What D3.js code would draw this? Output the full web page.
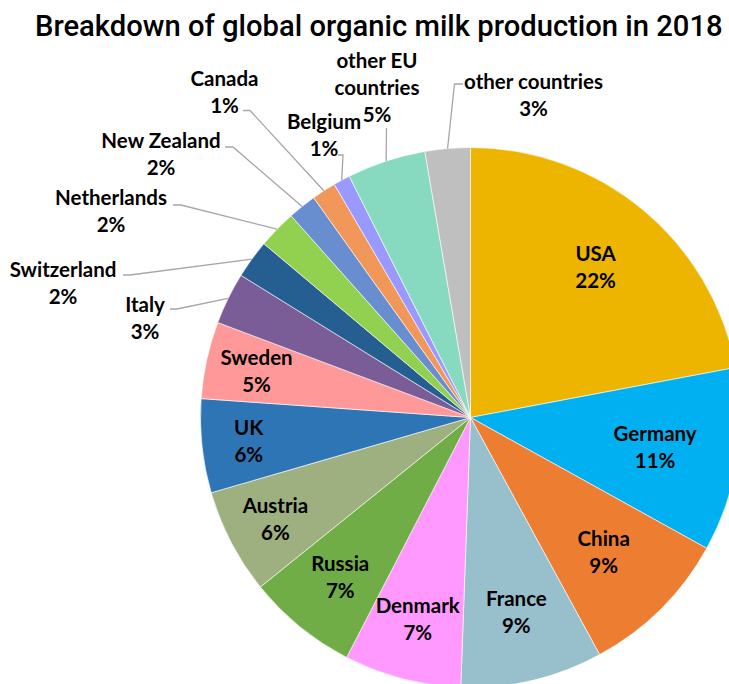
<!DOCTYPE html>
<html>
<head>
<meta charset="utf-8">
<script src="https://cdn.jsdelivr.net/npm/d3@7/dist/d3.min.js"></script>
<style>
  html, body { margin: 0; padding: 0; background: #fff; }
  svg { display: block; }
</style>
</head>
<body>
<svg id="chart" width="729" height="684"></svg>
<script>
// Share of global organic milk production, 2018 (percent), clockwise from 12 o'clock
const countries = ["USA", "Germany", "China", "France", "Denmark", "Russia", "Austria", "UK",
  "Sweden", "Italy", "Switzerland", "Netherlands", "New Zealand", "Canada", "Belgium",
  "other EU countries", "other countries"];
const shares = [22.0, 11.0, 9.0, 8.5, 7.0, 6.6, 6.3, 5.6, 4.6, 3.1, 2.3, 2.3, 1.7, 1.45, 1.0, 4.7, 2.7];
const sliceColors = ["#EDB400", "#00B0F0", "#ED7D31", "#97BFCC", "#FF99FF", "#70AD47", "#9EAF80",
  "#2E75B6", "#FF9999", "#7A5C96", "#255E91", "#92D050", "#698ED0", "#F1975A", "#9999FF",
  "#87DABF", "#BFBFBF"];
// Label text lines (the category name may wrap)
const labelLines = {
  "other EU countries": ["other EU", "countries"]
};
const title = "Breakdown of global organic milk production in 2018";

// ---- layout ----
const W = 729, H = 684;
const cx = 470.5, cy = 417.5, R = 270;
const lineGap = 27;
// labels drawn inside a slice: distance of the label block from the centre
const insideRadius = {
  "USA": 196, "Germany": 187, "China": 189, "France": 200, "Denmark": 208,
  "Russia": 206, "Austria": 220, "UK": 223, "Sweden": 219
};
// callout labels: block centre, leader start and the end of its short stub
const callouts = {
  "Italy":              { at: [145, 318],   from: [170, 309],   stub: [177, 309] },
  "Switzerland":        { at: [63, 282.5],  from: [123, 275],   stub: [130, 275] },
  "Netherlands":        { at: [111, 211],   from: [173, 205],   stub: [181, 205] },
  "New Zealand":        { at: [161, 153.5], from: [225, 147],   stub: [233, 147] },
  "Canada":             { at: [224.5, 91.5],from: [243, 110.5], stub: [250, 110.5] },
  "Belgium":            { at: [324, 135],   from: [338, 155],   stub: [343, 155] },
  "other EU countries": { at: [377, 87.5],  from: [386.5, 128], stub: [386.5, 128] },
  "other countries":    { at: [533.5, 94.5],from: [463, 84],    stub: [454.5, 84] }
};

const svg = d3.select("#chart");
const data = countries.map((c, i) => ({ name: c, value: shares[i], color: sliceColors[i] }));

const pie = d3.pie().sort(null).value(d => d.value).startAngle(0).endAngle(2 * Math.PI);
const arcs = pie(data);
const arc = d3.arc().innerRadius(0).outerRadius(R);

const g = svg.append("g").attr("transform", `translate(${cx},${cy})`);
g.selectAll("path.slice")
  .data(arcs)
  .join("path")
  .attr("class", "slice")
  .attr("d", arc)
  .attr("fill", d => d.data.color)
  .attr("stroke", "#ffffff")
  .attr("stroke-width", 0.6)
  .attr("stroke-linejoin", "round");

const pct = v => Math.round(v) + "%";
const labelFont = "Lato, 'Open Sans', sans-serif";
const labelSize = 20.5;

function drawBlock(x, yCenter, lines) {
  // block spans from first cap top to last baseline; cap height ~15px
  const n = lines.length;
  const height = 15 + (n - 1) * lineGap;
  const firstBase = yCenter - height / 2 + 15;
  const t = svg.append("text")
    .attr("text-anchor", "middle")
    .attr("font-family", labelFont)
    .attr("font-weight", 700)
    .attr("font-size", labelSize)
    .attr("fill", "#000");
  lines.forEach((s, i) => {
    t.append("tspan").attr("x", x).attr("y", firstBase + i * lineGap).text(s);
  });
}

arcs.forEach(a => {
  const name = a.data.name;
  const lines = (labelLines[name] || [name]).concat([pct(a.data.value)]);
  const mid = (a.startAngle + a.endAngle) / 2;
  if (insideRadius[name] !== undefined) {
    const r = insideRadius[name];
    drawBlock(cx + r * Math.sin(mid), cy - r * Math.cos(mid), lines);
  } else if (callouts[name]) {
    const c = callouts[name];
    const end = [cx + R * Math.sin(mid), cy - R * Math.cos(mid)];
    svg.append("path")
      .attr("d", d3.line()([c.from, c.stub, end]))
      .attr("fill", "none")
      .attr("stroke", "#A6A6A6")
      .attr("stroke-width", 1.3);
    drawBlock(c.at[0], c.at[1], lines);
  }
});

// title, fitted to its span
const titleText = svg.append("text")
  .attr("x", 35).attr("y", 36)
  .attr("font-family", "Roboto, 'DejaVu Sans', sans-serif")
  .attr("font-weight", 500)
  .attr("font-size", 25)
  .attr("fill", "#000")
  .text(title);
const tw = titleText.node().getComputedTextLength();
titleText.attr("font-size", 25 * 688 / tw);
</script>
</body>
</html>
